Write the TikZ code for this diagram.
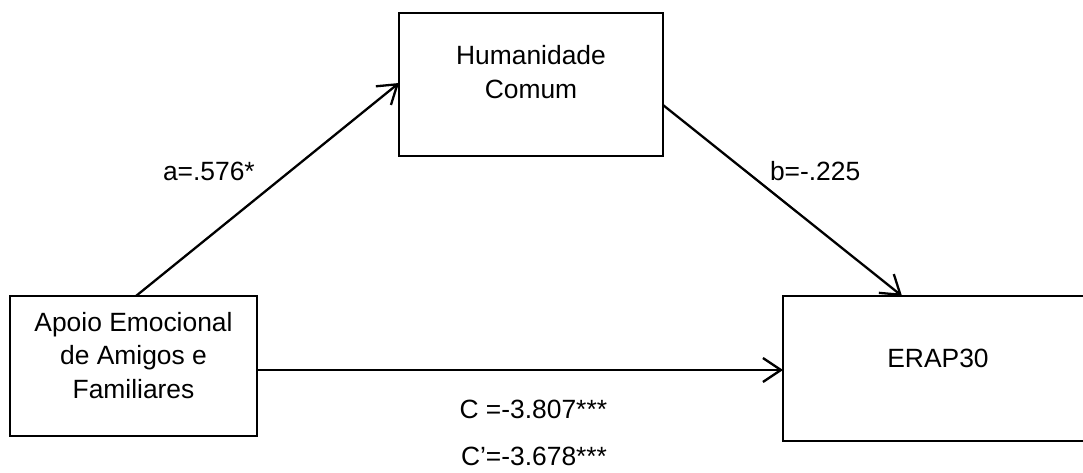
\documentclass[tikz,border=0pt]{standalone}
\usepackage{fontspec}
\setmainfont{Liberation Sans}
\usetikzlibrary{arrows.meta,calc}
\begin{document}
\begin{tikzpicture}[x=1pt,y=-1pt,
  box/.style={draw=black,line width=1.8pt,inner sep=0pt,outer sep=0pt},
  txt/.style={inner sep=0pt,outer sep=0pt,font=\fontsize{26.4pt}{33.4pt}\selectfont,align=center},
  arr/.style={draw=black,line width=2.3pt,-{Straight Barb[length=18pt,width=24pt,line width=2.3pt]}}]
\useasboundingbox (0,0) rectangle (1083,473);
\clip (0,0) rectangle (1083,473);
\fill[white] (0,0) rectangle (1083,473);
% boxes
\node[box,minimum width=247pt,minimum height=140pt] (L) at (133.5,366) {};
\node[box,minimum width=264pt,minimum height=143pt] (T) at (531,84.5) {};
\node[box,minimum width=312pt,minimum height=145pt] (R) at (939,368.5) {};
% box texts (anchor base = last line baseline)
\node[txt,anchor=base] (Ltxt) at (133.5,398.3) {Apoio Emocional\\de Amigos e\\Familiares};
\node[txt,anchor=base] (Ttxt) at (531,99) {Humanidade\\[1.5pt]Comum};
\node[txt,anchor=base] (Rtxt) at (938,367.3) {ERAP30};
% connectors
\draw[arr] ([xshift=2.5pt]L.north) -- ([yshift=1.5pt]T.west);
\draw[arr] ([yshift=-20.5pt]T.east) -- ([xshift=-37pt]R.north);
\coordinate (h) at ([yshift=-4pt]L.east);
\draw[arr] (h) -- (h -| R.west);
% labels
\node[txt,anchor=base west] (la) at (163,180) {a=.576*};
\node[txt,anchor=base west] (lb) at (770,180.7) {b=-.225};
\node[txt,anchor=base west] (lc) at (459.6,418.6) {C =-3.807***};
\node[txt,anchor=base west] (lcp) at (461,465.5) {C’=-3.678***};
\end{tikzpicture}
\end{document}
